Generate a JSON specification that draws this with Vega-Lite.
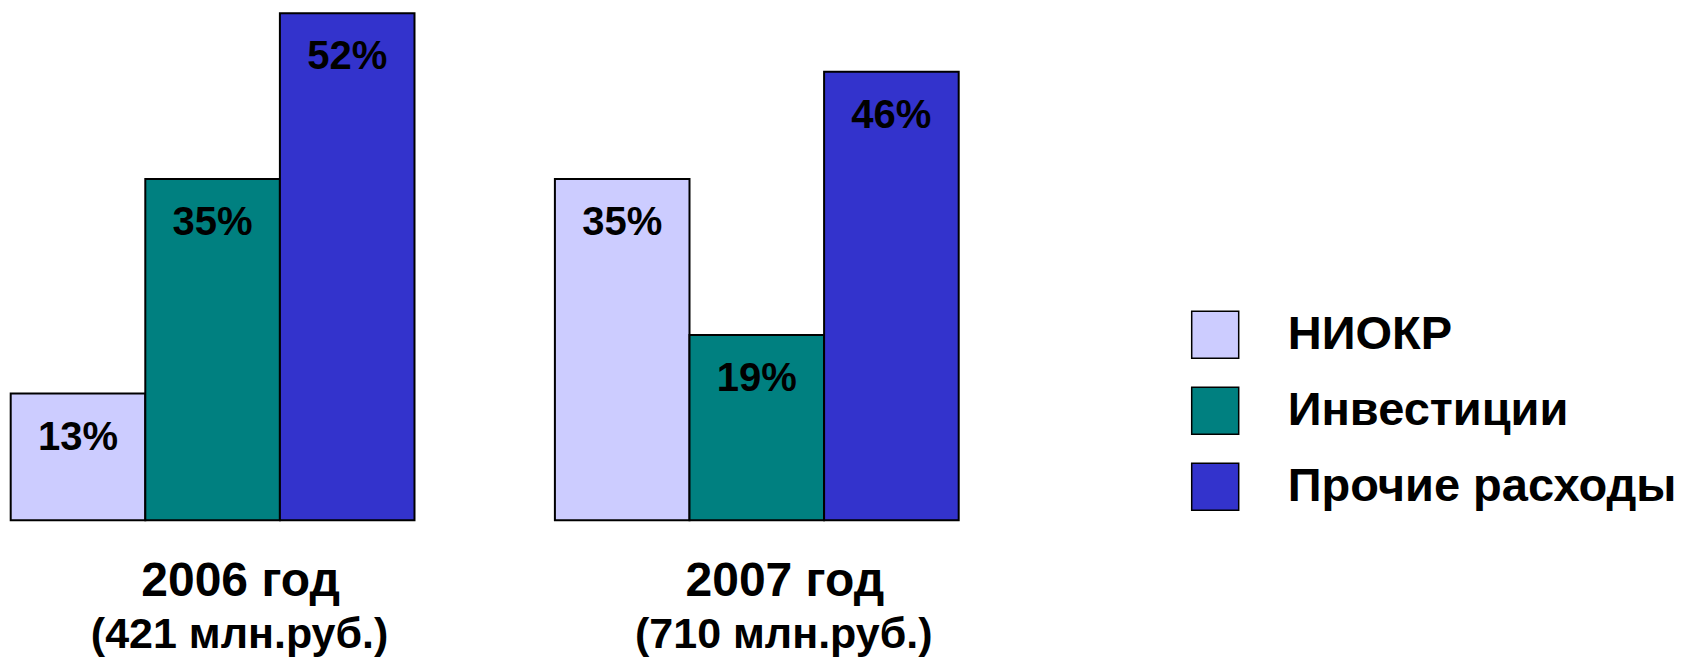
{
  "$schema": "https://vega.github.io/schema/vega-lite/v6.json",
  "width": 948,
  "height": 507,
  "autosize": {"type": "none"},
  "padding": {"left": 10.7, "top": 13.3, "right": 723.3, "bottom": 136.7},
  "background": "white",
  "config": {"view": {"stroke": null}, "font": "Liberation Sans"},
  "data": {
    "values": [
      {"year": "2006 год", "budget": "(421 млн.руб.)", "category": "НИОКР", "share": 0.13},
      {"year": "2006 год", "budget": "(421 млн.руб.)", "category": "Инвестиции", "share": 0.35},
      {"year": "2006 год", "budget": "(421 млн.руб.)", "category": "Прочие расходы", "share": 0.52},
      {"year": "2007 год", "budget": "(710 млн.руб.)", "category": "НИОКР", "share": 0.35},
      {"year": "2007 год", "budget": "(710 млн.руб.)", "category": "Инвестиции", "share": 0.19},
      {"year": "2007 год", "budget": "(710 млн.руб.)", "category": "Прочие расходы", "share": 0.46}
    ]
  },
  "encoding": {
    "x": {
      "field": "year",
      "type": "nominal",
      "sort": null,
      "scale": {"paddingInner": 0.258, "paddingOuter": 0},
      "axis": {
        "title": null,
        "domain": false,
        "ticks": false,
        "labelAngle": 0,
        "labelFont": "Liberation Sans",
        "labelFontSize": 48,
        "labelFontWeight": "bold",
        "labelColor": "black",
        "labelPadding": 75.5,
        "labelBaseline": "alphabetic",
        "labelLimit": 0,
        "labelOffset": 28,
        "labelOverlap": false
      }
    },
    "y": {
      "field": "share",
      "type": "quantitative",
      "scale": {"domain": [0, 0.52], "nice": false},
      "axis": null
    }
  },
  "layer": [
    {
      "mark": {"type": "bar", "stroke": "black", "strokeWidth": 2},
      "encoding": {
        "xOffset": {
          "field": "category",
          "type": "nominal",
          "sort": ["НИОКР", "Инвестиции", "Прочие расходы"],
          "scale": {"paddingInner": 0, "paddingOuter": 0}
        },
        "color": {
          "field": "category",
          "type": "nominal",
          "sort": ["НИОКР", "Инвестиции", "Прочие расходы"],
          "scale": {
            "domain": ["НИОКР", "Инвестиции", "Прочие расходы"],
            "range": ["#ccccff", "#008080", "#3333cc"]
          },
          "legend": {
            "title": null,
            "orient": "none",
            "legendX": 1180,
            "legendY": 297,
            "padding": 0,
            "symbolType": "square",
            "symbolSize": 2209,
            "symbolOpacity": 1,
            "labelFont": "Liberation Sans",
            "labelFontSize": 47,
            "labelFontWeight": "bold",
            "labelColor": "black",
            "labelOffset": 48,
            "labelLimit": 0,
            "rowPadding": 23,
            "encode": {
              "symbols": {
                "update": {
                  "stroke": {"value": "#3333cc"},
                  "strokeWidth": {"value": 2}
                }
              }
            }
          }
        }
      }
    },
    {
      "mark": {
        "type": "text",
        "dy": 56,
        "baseline": "alphabetic",
        "fontSize": 40,
        "fontWeight": "bold",
        "font": "Liberation Sans",
        "color": "black"
      },
      "encoding": {
        "xOffset": {
          "field": "category",
          "type": "nominal",
          "sort": ["НИОКР", "Инвестиции", "Прочие расходы"],
          "scale": {"paddingInner": 0, "paddingOuter": 0}
        },
        "text": {"field": "share", "type": "quantitative", "format": ".0%"}
      }
    },
    {
      "transform": [{"filter": "datum.category == 'НИОКР'"}],
      "mark": {
        "type": "text",
        "dy": 128,
        "dx": 27,
        "baseline": "alphabetic",
        "fontSize": 43,
        "fontWeight": "bold",
        "font": "Liberation Sans",
        "color": "black"
      },
      "encoding": {
        "y": {"datum": 0, "type": "quantitative"},
        "text": {"field": "budget", "type": "nominal"}
      }
    }
  ]
}
